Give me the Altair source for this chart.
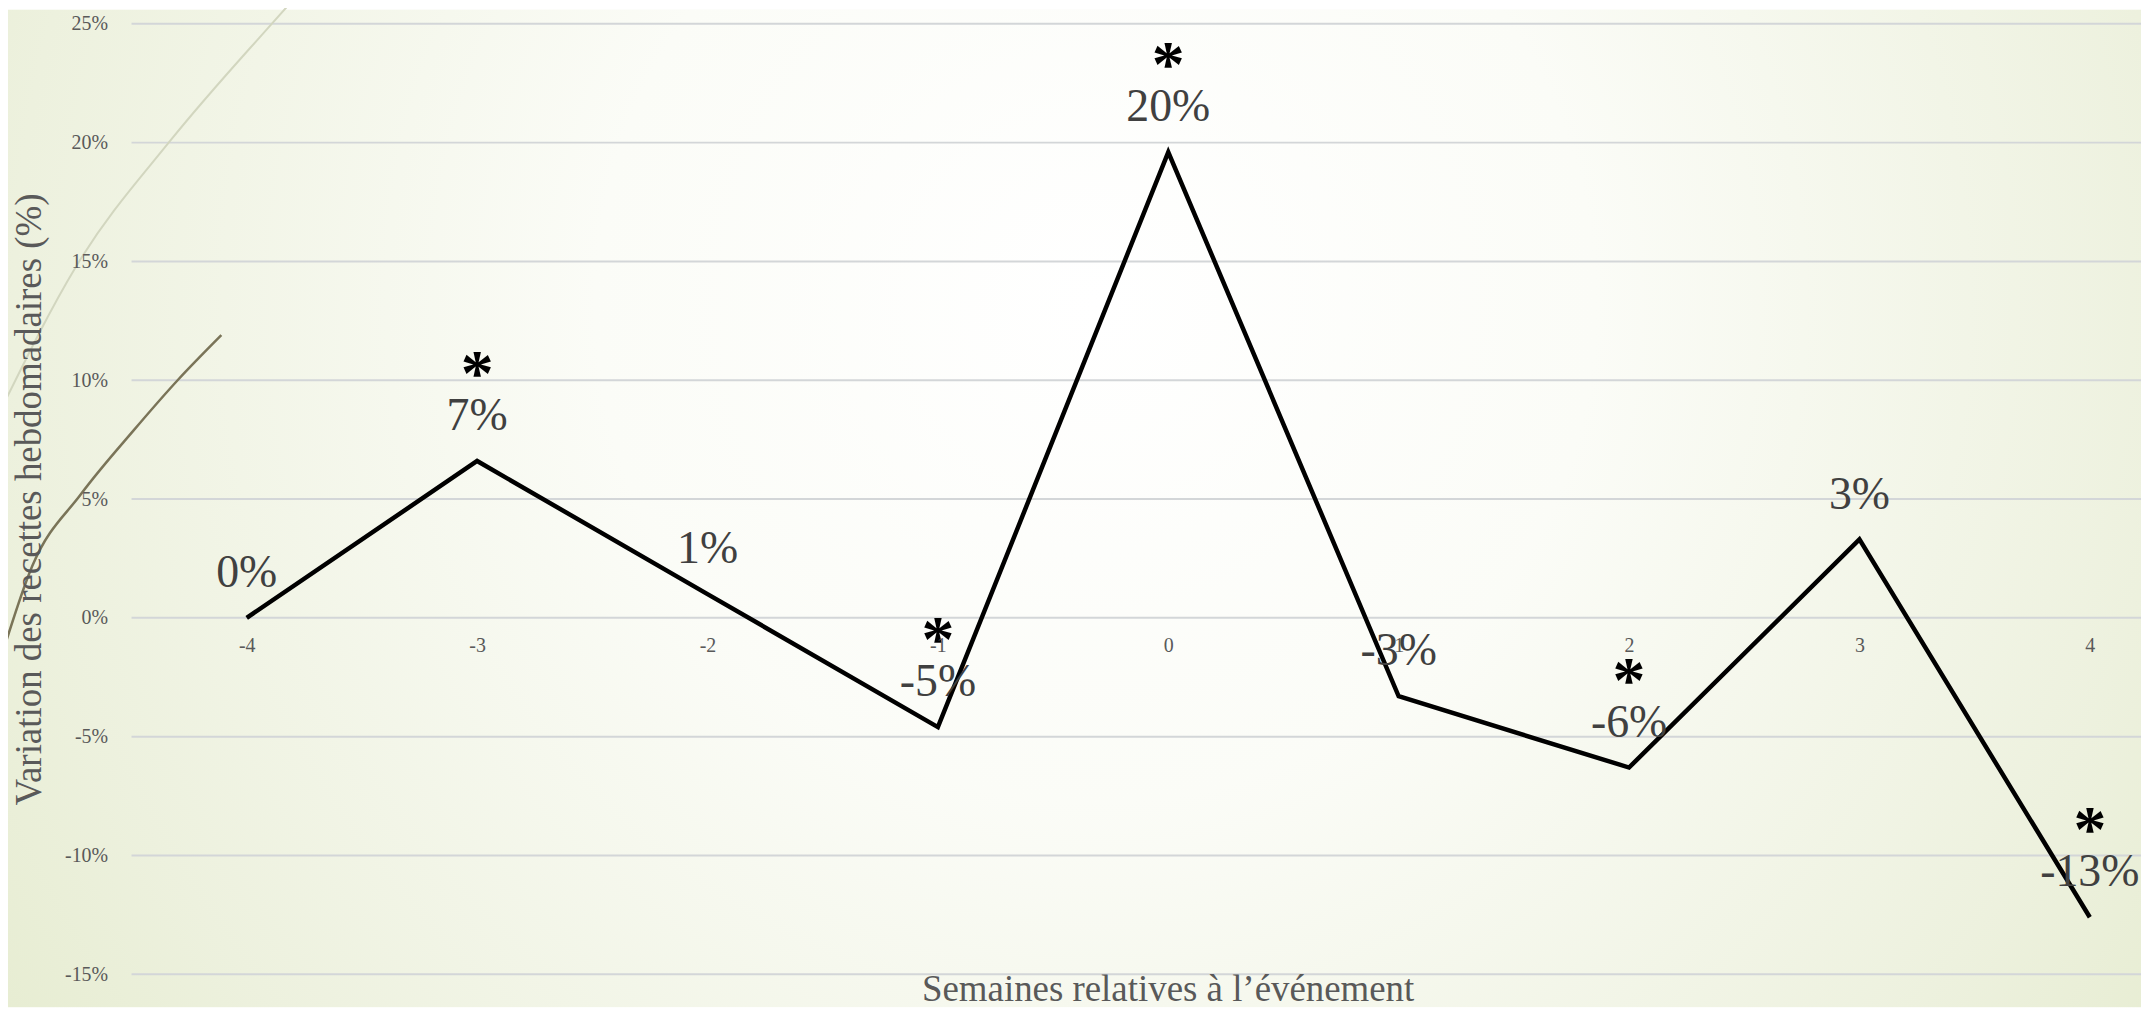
import altair as alt
import pandas as pd

# ---- data ----
weeks = [-4, -3, -2, -1, 0, 1, 2, 3, 4]
change_pct = [0.0, 6.6, 1.0, -4.6, 19.6, -3.3, -6.3, 3.3, -12.6]
labels = ["0%", "7%", "1%", "-5%", "20%", "-3%", "-6%", "3%", "-13%"]
significant = [False, True, False, True, True, False, True, False, True]
y_ticks = [-15, -10, -5, 0, 5, 10, 15, 20, 25]

# decorative background wisps (in data units)
wisp_light_x = [-5.07, -4.74, -4.33, -3.91, -3.79]
wisp_light_y = [8.7, 14.8, 20.1, 24.8, 26.1]
wisp_dark_x = [-5.07, -4.93, -4.72, -4.49, -4.30, -4.11]
wisp_dark_y = [-1.8, 2.2, 5.2, 7.9, 10.0, 11.9]

W, H = 2017, 954
PAD_L, PAD_T, PAD_B = 124, 14, 33
X_MAX = -4.5 + W / 231.25
FONT = "Liberation Serif"

df = pd.DataFrame({"week": weeks, "pct": change_pct, "label": labels, "sig": significant})
grid_df = pd.DataFrame({"pct": y_ticks})
light_df = pd.DataFrame({"week": wisp_light_x, "pct": wisp_light_y})
dark_df = pd.DataFrame({"week": wisp_dark_x, "pct": wisp_dark_y})
bg_df = pd.DataFrame({"k": [0]})

x_enc = alt.X(
    "week:Q",
    scale=alt.Scale(domain=[-4.5, X_MAX], nice=False, zero=False),
    axis=alt.Axis(
        values=weeks, labelExpr="'' + datum.value", orient="bottom",
        offset=-357.75, grid=False, domain=False, ticks=False, tickSize=0,
        labelPadding=28, labelBaseline="middle", labelFont=FONT,
        labelFontSize=20, labelColor="#595959",
        title="Semaines relatives à l’événement", titleFont=FONT,
        titleFontSize=37, titleFontWeight="normal", titleColor="#595959",
        titleX=1040, titleY=384, titleAlign="center",
        titleBaseline="alphabetic", zindex=1,
    ),
)
y_enc = alt.Y(
    "pct:Q",
    scale=alt.Scale(domain=[-15, 25], nice=False, zero=False),
    axis=alt.Axis(
        values=y_ticks, labelExpr="datum.value + '%'", grid=False,
        domain=False, ticks=False, tickSize=0, labelPadding=24,
        labelFont=FONT, labelFontSize=20, labelColor="#595959",
        title="Variation des recettes hebdomadaires (%)", titleFont=FONT,
        titleFontSize=37, titleFontWeight="normal", titleColor="#595959",
        titleX=-102, titleY=477, titleAngle=-90, titleAlign="center",
        titleBaseline="middle", zindex=1,
    ),
)

bg = alt.Chart(bg_df).mark_rect(
    color={
        "gradient": "radial",
        "x1": 0.51, "y1": 0.404, "r1": 0,
        "x2": 0.51, "y2": 0.404, "r2": 0.78,
        "stops": [
            {"offset": 0, "color": "#ffffff"},
            {"offset": 0.3, "color": "#fbfcf7"},
            {"offset": 0.65, "color": "#edf1de"},
            {"offset": 1, "color": "#dde6bf"},
        ],
    }
).encode(
    x=alt.value(-PAD_L), x2=alt.value(W), y=alt.value(-PAD_T), y2=alt.value(H + PAD_B)
)

grid = alt.Chart(grid_df).mark_rule(color="#d3d6d8", strokeWidth=2).encode(
    y=y_enc, x=alt.value(0), x2=alt.value(W)
)

light = alt.Chart(light_df).mark_line(
    color="#d2d6bf", strokeWidth=2, interpolate="monotone"
).encode(x=x_enc, y=y_enc, order="week:Q")

dark = alt.Chart(dark_df).mark_line(
    color="#7a7458", strokeWidth=2.5, interpolate="monotone"
).encode(x=x_enc, y=y_enc, order="week:Q")

line = alt.Chart(df).mark_line(
    color="#000000", strokeWidth=4.5, strokeJoin="miter"
).encode(x=x_enc, y=y_enc)

value_text = alt.Chart(df).mark_text(
    dy=-45, fontSize=46, font=FONT, color="#404040",
    align="center", baseline="middle",
).encode(x=x_enc, y=y_enc, text="label:N")

stars = alt.Chart(df).transform_filter("datum.sig").mark_text(
    text="*", dy=-86, fontSize=66, font=FONT, fontWeight="bold",
    color="#000000", align="center", baseline="middle",
).encode(x=x_enc, y=y_enc)

chart = alt.layer(bg, grid, light, dark, line, value_text, stars).properties(
    width=W, height=H,
    autosize=alt.AutoSizeParams(type="none"),
    padding={"left": PAD_L, "top": PAD_T, "right": 0, "bottom": PAD_B},
).configure_view(stroke=None)

chart.save("out.html", embed_options={"renderer": "svg", "actions": False})
